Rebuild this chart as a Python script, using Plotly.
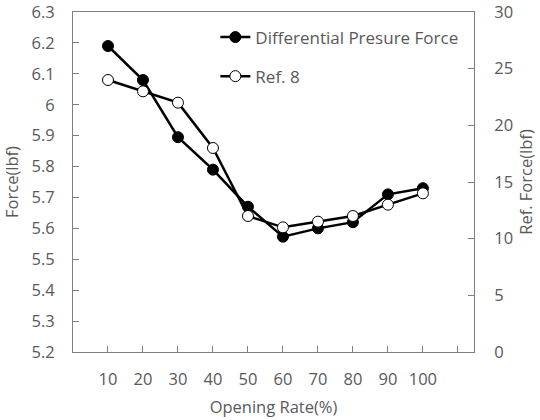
import plotly.graph_objects as go

opening_rate = [10, 20, 30, 40, 50, 60, 70, 80, 90, 100]
diff_force = [6.19, 6.08, 5.895, 5.79, 5.67, 5.573, 5.60, 5.62, 5.71, 5.73]
ref8_force = [24.0, 23.0, 22.0, 18.0, 12.0, 11.0, 11.5, 12.0, 13.0, 14.0]
x_tickvals = [10, 20, 30, 40, 50, 60, 70, 80, 90, 100, 110]
x_ticktext = ["10", "20", "30", "40", "50", "60", "70", "80", "90", "100", ""]
y1_tickvals = [5.2, 5.3, 5.4, 5.5, 5.6, 5.7, 5.8, 5.9, 6.0, 6.1, 6.2, 6.3]
y1_ticktext = ["5.2", "5.3", "5.4", "5.5", "5.6", "5.7", "5.8", "5.9", "6", "6.1", "6.2", "6.3"]
y2_tickvals = [0, 5, 10, 15, 20, 25, 30]

FONT = "Open Sans"
GRAY = "#595959"
AX = "#808080"
FS = 16.5

fig = go.Figure()
fig.add_trace(go.Scatter(
    x=opening_rate, y=diff_force, name="Differential Presure Force",
    mode="lines+markers",
    line=dict(color="black", width=2.5),
    marker=dict(symbol="circle", size=11, color="black", line=dict(color="black", width=1)),
    legend="legend", showlegend=True,
))
fig.add_trace(go.Scatter(
    x=opening_rate, y=ref8_force, name="Ref. 8", yaxis="y2",
    mode="lines+markers",
    line=dict(color="black", width=2.5),
    marker=dict(symbol="circle", size=11, color="white", line=dict(color="black", width=1)),
    legend="legend2", showlegend=True,
))

tickfont = dict(family=FONT, size=FS, color=GRAY)
titlefont = dict(family=FONT, size=FS, color=GRAY)
fig.update_layout(
    width=540, height=420,
    showlegend=True,
    margin=dict(l=73, r=66, t=12, b=68, autoexpand=False),
    paper_bgcolor="white", plot_bgcolor="white",
    font=dict(family=FONT, color=GRAY, size=FS),
    xaxis=dict(
        range=[0, 114.6], tickvals=x_tickvals, ticktext=x_ticktext,
        ticks="inside", ticklen=6, tickcolor=AX, automargin=False,
        ticklabelstandoff=12, ticklabeloverflow="allow",
        showline=True, linecolor=AX, linewidth=1, mirror=True,
        showgrid=False, zeroline=False, tickfont=tickfont,
        title=dict(text="Opening Rate(%)", font=titlefont, standoff=12),
    ),
    yaxis=dict(
        range=[5.2, 6.3], tickvals=y1_tickvals, ticktext=y1_ticktext,
        ticks="inside", ticklen=6, tickcolor=AX, automargin=False,
        ticklabelstandoff=14, ticklabeloverflow="allow",
        showline=True, linecolor=AX, linewidth=1,
        showgrid=False, zeroline=False, tickfont=tickfont,
        title=dict(text="Force(lbf)", font=titlefont, standoff=10),
    ),
    yaxis2=dict(
        range=[0, 30], tickvals=y2_tickvals, overlaying="y", side="right",
        ticks="inside", ticklen=6, tickcolor=AX, automargin=False,
        ticklabelstandoff=16, ticklabeloverflow="allow",
        showline=True, linecolor=AX, linewidth=1,
        showgrid=False, zeroline=False, tickfont=tickfont,
        title=dict(text="Ref. Force(lbf)", font=titlefont, standoff=8),
    ),
    legend=dict(x=0.355, y=0.925, xanchor="left", yanchor="middle", itemwidth=30,
                bgcolor="rgba(0,0,0,0)", font=dict(family=FONT, size=17, color=GRAY)),
    legend2=dict(x=0.355, y=0.81, xanchor="left", yanchor="middle", itemwidth=30,
                 bgcolor="rgba(0,0,0,0)", font=dict(family=FONT, size=17, color=GRAY)),
)

fig.write_html("out.html", config={"displayModeBar": False},
               post_script="document.body.style.margin='0';")
